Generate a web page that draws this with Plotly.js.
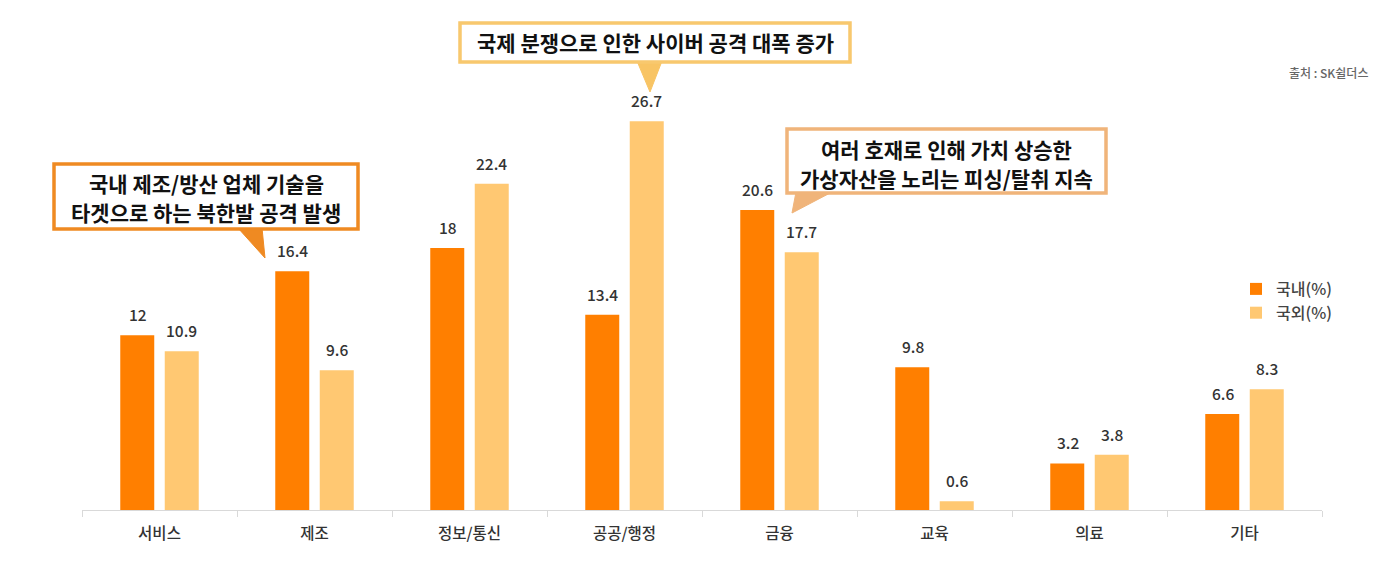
<!DOCTYPE html>
<html>
<head>
<meta charset="utf-8">
<script src="https://cdn.plot.ly/plotly-3.0.1.min.js"></script>
<style>html,body{margin:0;padding:0;background:#fff;}#chart{width:1400px;height:584px;}</style>
</head>
<body>
<div id="chart"></div>
<script>
const categories = ['서비스', '제조', '정보/통신', '공공/행정', '금융', '교육', '의료', '기타'];
const domestic = [12, 16.4, 18, 13.4, 20.6, 9.8, 3.2, 6.6];
const overseas = [10.9, 9.6, 22.4, 26.7, 17.7, 0.6, 3.8, 8.3];
const seriesNames = ['국내(%)', '국외(%)'];
const callout1 = ['국내 제조/방산 업체 기술을', '타겟으로 하는 북한발 공격 발생'];
const callout2 = ['국제 분쟁으로 인한 사이버 공격 대폭 증가'];
const callout3 = ['여러 호재로 인해 가치 상승한', '가상자산을 노리는 피싱/탈취 지속'];
const sourceText = '출처 : SK쉴더스';

const FONT = '"Noto Sans CJK KR", "Noto Sans", sans-serif';
const cOrange = '#FF7F00';
const cLight = '#FFC872';

// plot area pixel geometry
const L = 82, R = 1322, T = 20, B = 510;
const px = x => (x - L) / (R - L);
const py = y => (B - y) / (B - T);

const traces = [
  {type: 'bar', name: seriesNames[0], x: categories, y: domestic, marker: {color: cOrange}, hoverinfo: 'skip'},
  {type: 'bar', name: seriesNames[1], x: categories, y: overseas, marker: {color: cLight}, hoverinfo: 'skip'}
];

const annotations = [];
const fmt = v => String(v);
const valFont = {family: FONT, size: 15.5, color: '#333', weight: 500};
categories.forEach((c, i) => {
  annotations.push({x: c, y: domestic[i], xref: 'x', yref: 'y', text: fmt(domestic[i]), showarrow: false,
    xshift: -22, yshift: 8, yanchor: 'bottom', font: valFont});
  annotations.push({x: c, y: overseas[i], xref: 'x', yref: 'y', text: fmt(overseas[i]), showarrow: false,
    xshift: 22, yshift: 8, yanchor: 'bottom', font: valFont});
});

function calloutText(lines, cx, ys) {
  lines.forEach((t, k) => {
    annotations.push({xref: 'paper', yref: 'paper', x: px(cx), y: py(ys[k]), text: '<b>' + t + '</b>',
      showarrow: false, xanchor: 'center', yanchor: 'middle', align: 'center', borderpad: 0,
      font: {family: FONT, size: 21, color: '#111'}});
  });
}
calloutText(callout1, 206, [183, 212]);
calloutText(callout2, 655, [42]);
calloutText(callout3, 946, [149, 178]);

annotations.push({xref: 'paper', yref: 'paper', x: px(1370), y: py(72), text: sourceText, showarrow: false,
  xanchor: 'right', yanchor: 'middle', font: {family: FONT, size: 12, color: '#666', weight: 500}});

function rect(x0, y0, x1, y1, line, fill, w) {
  return {type: 'rect', xref: 'paper', yref: 'paper', x0: px(x0), x1: px(x1), y0: py(y1), y1: py(y0),
    line: {color: line, width: w}, fillcolor: fill, layer: 'above'};
}
function tri(pts, color) {
  const d = 'M ' + pts.map(p => px(p[0]) + ',' + py(p[1])).join(' L ') + ' Z';
  return {type: 'path', xref: 'paper', yref: 'paper', path: d, fillcolor: color, line: {color: color, width: 1}, layer: 'above'};
}
const shapes = [
  tri([[238, 228], [262, 228], [265, 258]], '#EF8A22'),
  rect(54, 164, 358, 229, '#EF8A22', '#FFFFFF', 3.5),
  tri([[637, 61], [662, 61], [650, 92]], '#F8C464'),
  rect(460, 23, 850, 62, '#F8C86E', '#FFFFFF', 3.5),
  tri([[796, 192], [832, 192], [792, 213]], '#F0B47A'),
  rect(787, 129, 1106, 193, '#F0B47A', '#FFFFFF', 3.5)
];

const layout = {
  width: 1400, height: 584,
  margin: {l: L, r: 1400 - R, t: T, b: 584 - B},
  paper_bgcolor: '#fff', plot_bgcolor: '#fff',
  barmode: 'group', bargap: 0.426, bargroupgap: 0.236,
  font: {family: FONT, color: '#333'},
  showlegend: true,
  legend: {x: px(1236), y: py(272), xanchor: 'left', yanchor: 'top', bgcolor: 'rgba(0,0,0,0)',
    font: {family: FONT, size: 16, color: '#444', weight: 500}, itemwidth: 30},
  xaxis: {type: 'category', showline: true, linecolor: '#d9d9d9', linewidth: 1,
    ticks: 'outside', tickson: 'boundaries', ticklen: 6, tickcolor: '#d9d9d9', ticklabelstandoff: 9,
    tickfont: {family: FONT, size: 15.5, color: '#333', weight: 500}, showgrid: false, zeroline: false, fixedrange: true},
  yaxis: {range: [0, 33.65], visible: false, showgrid: false, zeroline: false, fixedrange: true},
  annotations: annotations,
  shapes: shapes
};

Plotly.newPlot('chart', traces, layout, {displayModeBar: false, staticPlot: true});
</script>
</body>
</html>
